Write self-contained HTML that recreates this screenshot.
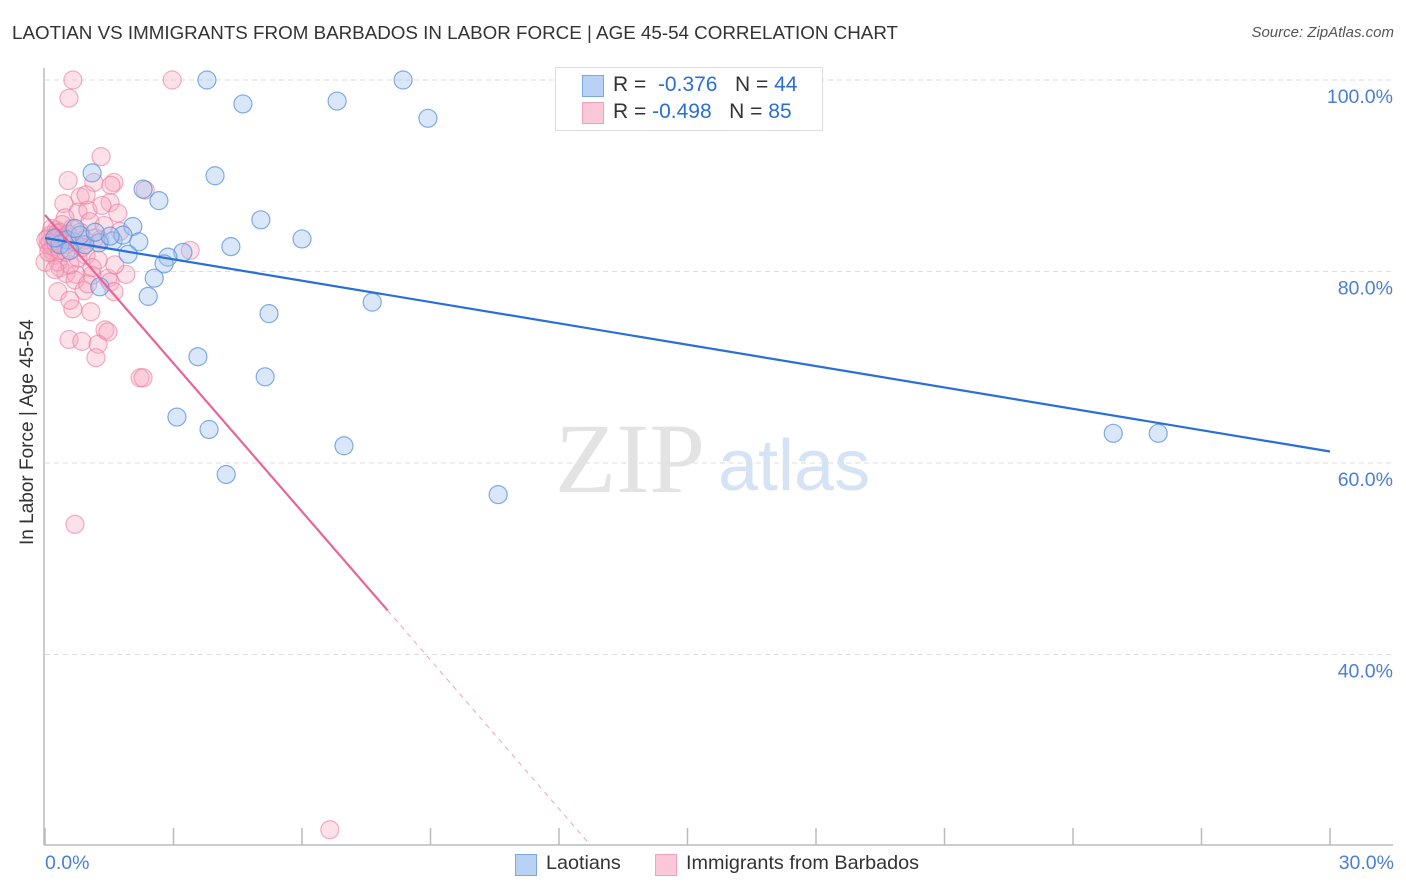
<!DOCTYPE html>
<html><head><meta charset="utf-8"><style>
body{margin:0;background:#fff;font-family:"Liberation Sans",sans-serif;}
#wrap{position:relative;width:1406px;height:892px;overflow:hidden;}
.t{position:absolute;white-space:nowrap;}
</style></head><body>
<div id="wrap">
<div class="t" style="left:12px;top:22px;font-size:18.8px;color:#333;">LAOTIAN VS IMMIGRANTS FROM BARBADOS IN LABOR FORCE | AGE 45-54 CORRELATION CHART</div>
<div class="t" style="right:12px;top:24px;font-size:15px;color:#555;font-style:italic;">Source: ZipAtlas.com</div>
<svg id="plot" width="1406" height="892" style="position:absolute;left:0;top:0"></svg>
</div>
<script>
const blueX=[3.78,8.36,4.62,6.82,8.94,1.10,3.97,2.29,2.66,5.04,2.05,6.0,1.59,1.82,2.19,4.34,1.26,1.94,3.22,2.87,2.78,2.55,2.41,7.64,5.23,3.57,5.14,3.08,3.83,6.98,4.23,10.58,24.94,25.99,1.28,0.51,0.93,0.82,0.35,1.52,0.70,0.23,0.58,1.17];
const blueY=[100,100,97.5,97.8,96.0,90.3,90.0,88.6,87.4,85.4,84.7,83.4,83.2,83.8,83.1,82.6,83.0,81.8,82.0,81.5,80.8,79.3,77.4,76.8,75.6,71.1,69.0,64.8,63.5,61.8,58.8,56.7,63.1,63.1,78.4,83.3,82.8,83.8,82.8,83.7,84.5,83.5,82.2,84.1];
const pinkX=[0.65,2.97,0.56,1.31,0.54,1.14,1.61,1.54,0.82,1.52,0.44,0.77,1.00,1.70,0.47,1.05,0.63,0.26,1.28,0.07,0.16,0.96,1.24,0.35,0.49,0.72,1.10,1.89,1.47,1.52,0.30,1.61,0.70,0.91,0.65,1.07,1.40,1.47,0.56,0.86,1.24,1.19,2.22,2.29,0.70,6.65,3.39,2.34,0.12,0.23,0.40,0.30,0.58,0.82,0.93,1.17,0.0,0.07,0.16,0.35,0.47,0.23,0.58,1.33,0.96,1.75,0.77,0.49,1.38,1.10,0.40,1.00,1.63,0.12,0.19,0.28,0.42,0.54,0.68,0.86,0.02,0.09,0.26,0.35,0.30];
const pinkY=[100,100,98.1,92.0,89.5,89.3,89.3,89.0,87.8,87.2,87.1,86.2,86.4,86.1,85.6,85.2,84.5,84.3,83.3,82.8,82.2,81.7,81.2,80.4,79.8,79.7,79.6,79.7,79.3,78.9,77.9,77.9,79.1,78.0,76.1,75.8,73.9,73.7,72.9,72.7,72.4,71.0,68.9,68.9,53.6,21.7,82.2,88.5,83.8,81.7,83.3,81.0,80.7,84.1,83.3,83.5,81.0,83.5,84.5,84.1,82.8,80.2,77.0,86.9,88.0,84.2,81.4,82.0,84.8,80.4,84.9,78.7,80.7,83.0,82.6,84.0,83.5,83.9,83.1,82.5,83.3,82.0,82.9,82.2,83.5];
const blueTrend=[[0,83.5],[30,61.2]];
const pinkTrendSolid=[[0,85.9],[8.0,44.6]];
const pinkTrendDash=[[8.0,44.6],[12.73,20.1]];
const yTicks=[100,80,60,40];
const yTickLabels=["100.0%","80.0%","60.0%","40.0%"];
const xTicks=[0,3,6,9,12,15,18,21,24,27,30];

const sx=v=>45+v/30*1285;
const sy=v=>80+(100-v)*9.575;
const svg=document.getElementById('plot');
const NS='http://www.w3.org/2000/svg';
function mk(tag,attrs,parent){const e=document.createElementNS(NS,tag);for(const k in attrs)e.setAttribute(k,attrs[k]);(parent||svg).appendChild(e);return e;}

yTicks.forEach((t,i)=>{
  const g=mk('line',{x1:45,x2:1393,y1:sy(t),y2:sy(t),stroke:'#ddd','stroke-dasharray':'5,4','stroke-width':1});
  
  
  const tx=mk('text',{x:1393,y:sy(t)+23,'text-anchor':'end','font-size':19.5,fill:'#4a7fd4','font-family':'Liberation Sans, sans-serif'});
  tx.textContent=yTickLabels[i];
  
  
});
const ax=mk('line',{x1:44,x2:44,y1:68,y2:845,stroke:'#bbb','stroke-width':1.5});


const bx=mk('line',{x1:44,x2:1393,y1:845,y2:845,stroke:'#bbb','stroke-width':1.5});


xTicks.forEach(t=>{const l=mk('line',{x1:sx(t),x2:sx(t),y1:828,y2:845,stroke:'#bbb','stroke-width':1.5});
  
  });

const w1=mk('text',{x:555,y:492,'font-size':100,fill:'#e3e3e3','font-family':'Liberation Serif, serif'});w1.textContent='ZIP';


const w2=mk('text',{x:718,y:490,'font-size':72,fill:'#d6e3f5','font-family':'Liberation Sans, sans-serif'});w2.textContent='atlas';



pinkX.forEach((x,i)=>{const c=mk('circle',{cx:sx(x),cy:sy(pinkY[i]),r:9,fill:'rgba(246,168,192,0.35)',stroke:'rgba(236,120,160,0.6)','stroke-width':1.2});
  
  });
blueX.forEach((x,i)=>{const c=mk('circle',{cx:sx(x),cy:sy(blueY[i]),r:9,fill:'rgba(160,196,240,0.4)',stroke:'rgba(90,145,220,0.75)','stroke-width':1.2});
  
  });

const bl=mk('line',{x1:sx(blueTrend[0][0]),y1:sy(blueTrend[0][1]),x2:sx(blueTrend[1][0]),y2:sy(blueTrend[1][1]),stroke:'#2a6fd6','stroke-width':2.2});


const pl=mk('line',{x1:sx(pinkTrendSolid[0][0]),y1:sy(pinkTrendSolid[0][1]),x2:sx(pinkTrendSolid[1][0]),y2:sy(pinkTrendSolid[1][1]),stroke:'#e8659a','stroke-width':2.2});


const pd=mk('line',{x1:sx(pinkTrendDash[0][0]),y1:sy(pinkTrendDash[0][1]),x2:sx(pinkTrendDash[1][0]),y2:sy(pinkTrendDash[1][1]),stroke:'#f0a0bf','stroke-width':1,'stroke-dasharray':'5,5'});


</script>
<div class="t" style="left:-60px;top:446px;transform:rotate(-90deg);font-size:19px;color:#333;width:176px;text-align:center;">In Labor Force | Age 45-54</div>
<div class="t" style="left:45px;top:852px;font-size:19.5px;color:#4a7fd4;">0.0%</div>
<div class="t" style="right:12px;top:852px;font-size:19.5px;color:#4a7fd4;">30.0%</div>
<div style="position:absolute;left:555px;top:67px;width:266px;height:62px;border:1px solid #ddd;background:#fff;font-size:21px;color:#333;">
 <div style="position:absolute;left:26px;top:7px;width:20px;height:20px;background:#b7d2f5;border:1px solid #7aa8e6;"></div>
 <div class="t" style="left:57px;top:5px;">R = <span style="color:#2a6fd6">&nbsp;-0.376</span>&nbsp;&nbsp;&nbsp;N = <span style="color:#2a6fd6">44</span></div>
 <div style="position:absolute;left:26px;top:34px;width:20px;height:20px;background:#fac8d8;border:1px solid #f2a0bd;"></div>
 <div class="t" style="left:57px;top:32px;">R = <span style="color:#2a6fd6">-0.498</span>&nbsp;&nbsp;&nbsp;N = <span style="color:#2a6fd6">85</span></div>
</div>
<div style="position:absolute;left:515px;top:852px;font-size:19.8px;color:#333;">
 <div style="position:absolute;left:0;top:2px;width:20px;height:20px;background:#b7d2f5;border:1px solid #7aa8e6;"></div>
 <div class="t" style="left:31px;top:0;">Laotians</div></div>
<div style="position:absolute;left:655px;top:852px;font-size:19.8px;color:#333;">
 <div style="position:absolute;left:0;top:2px;width:20px;height:20px;background:#fac8d8;border:1px solid #f2a0bd;"></div>
 <div class="t" style="left:31px;top:0;">Immigrants from Barbados</div></div>
</body></html>
